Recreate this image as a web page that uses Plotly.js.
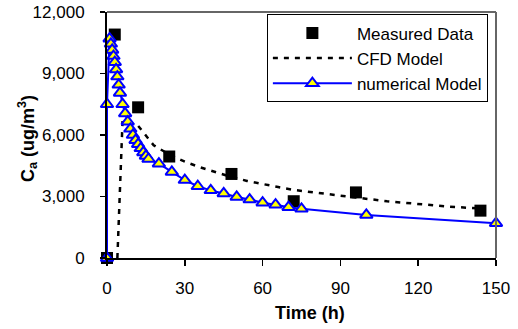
<!DOCTYPE html>
<html>
<head>
<meta charset="utf-8">
<script src="https://cdn.plot.ly/plotly-3.0.1.min.js"></script>
<style>
html,body{margin:0;padding:0;background:#fff;}
#chart{width:518px;height:329px;}
</style>
</head>
<body>
<div id="chart"></div>
<script>
// Measured data (squares)
var measuredTime = [0, 3, 12, 24, 48, 72, 96, 144];
var measuredCa   = [0, 10900, 7350, 4950, 4100, 2770, 3200, 2310];

// CFD model (dashed line)
var cfdTime = [4, 6, 12, 18, 24, 30, 36, 42, 48, 54, 60, 66, 72, 84, 96, 108, 120, 132, 144];
var cfdCa   = [0, 6700, 6450, 5500, 5050, 4700, 4420, 4170, 3950, 3760, 3600, 3460, 3320, 3120, 2950, 2770, 2620, 2500, 2420];

// Numerical model (blue line with triangles)
var numTime = [0, 0, 1, 1.5, 2, 2.5, 3, 3.5, 4, 4.5, 5, 6, 7, 8, 9, 10, 11, 12, 13, 14, 15, 16, 20, 25, 30, 35, 40, 45, 50, 55, 60, 65, 70, 75, 100, 150];
var numCa   = [0, 7500, 10700, 10450, 10150, 9850, 9550, 9200, 8850, 8450, 8050, 7500, 7050, 6650, 6300, 6000, 5750, 5550, 5350, 5150, 4980, 4830, 4600, 4200, 3800, 3500, 3300, 3150, 2980, 2850, 2700, 2600, 2480, 2400, 2100, 1700];

// Axis ticks and titles
var xTicks = [0, 30, 60, 90, 120, 150];
var yTicks = [0, 3000, 6000, 9000, 12000];
var xTitle = '<b>Time (h)</b>';
var yTitle = '<b>C<sub>a</sub> (ug/m<sup>3</sup>)</b>';

var FONT = 'Arial, "Liberation Sans", Helvetica, sans-serif';

var traces = [
  {
    x: measuredTime, y: measuredCa, name: 'Measured Data',
    type: 'scatter', mode: 'markers', legendgroup: 'a',
    marker: {symbol: 'square', size: 12, color: '#000000'},
    cliponaxis: false
  },
  {
    x: cfdTime, y: cfdCa, name: 'CFD Model',
    type: 'scatter', mode: 'lines', legendgroup: 'b',
    line: {color: '#000000', width: 2.5, dash: '5px,6px'},
    cliponaxis: false
  },
  {
    x: numTime, y: numCa, name: 'numerical Model',
    type: 'scatter', mode: 'lines+markers', legendgroup: 'c',
    line: {color: '#0000FF', width: 2},
    marker: {symbol: 'triangle-up', size: 11, color: '#FFFF00', line: {color: '#0000FF', width: 2}},
    cliponaxis: false
  }
];

var layout = {
  width: 518, height: 329,
  margin: {l: 107, r: 22, t: 12, b: 71, pad: 0},
  paper_bgcolor: '#ffffff', plot_bgcolor: '#ffffff',
  font: {family: FONT, size: 17, color: '#000000'},
  showlegend: true,
  legend: {
    x: 0.411, y: 0.99, xanchor: 'left', yanchor: 'top',
    bgcolor: '#ffffff', bordercolor: '#000000', borderwidth: 1,
    font: {family: FONT, size: 17, color: '#000000'},
    itemwidth: 79, tracegroupgap: 8, traceorder: 'normal'
  },
  xaxis: {
    range: [0, 150], tickvals: xTicks, ticktext: xTicks.map(String),
    showgrid: false, zeroline: false,
    showline: true, linecolor: '#000000', linewidth: 2,
    ticks: 'outside', ticklen: 6, tickwidth: 1.5, tickcolor: '#000000',
    ticklabelstandoff: 8,
    tickfont: {family: FONT, size: 17}
  },
  yaxis: {
    range: [0, 12000], tickvals: yTicks, tickformat: ',d',
    showgrid: false, zeroline: false,
    showline: true, linecolor: '#000000', linewidth: 2,
    ticks: 'outside', ticklen: 5, tickwidth: 1.5, tickcolor: '#000000',
    ticklabelstandoff: 12,
    tickfont: {family: FONT, size: 17}
  },
  annotations: [
    {text: xTitle, xref: 'paper', yref: 'paper', x: 0.522, y: 0, yshift: -55,
     xanchor: 'center', yanchor: 'middle', showarrow: false,
     font: {family: FONT, size: 18, color: '#000000'}},
    {text: yTitle, xref: 'paper', yref: 'paper', x: 0, y: 0.5, xshift: -80, yshift: -4,
     textangle: -90, xanchor: 'center', yanchor: 'middle', showarrow: false,
     font: {family: FONT, size: 18, color: '#000000'}}
  ],
  shapes: [
    {type: 'line', xref: 'paper', yref: 'paper', x0: 0, x1: 1, y0: 1, y1: 1, line: {color: '#666666', width: 2}},
    {type: 'line', xref: 'paper', yref: 'paper', x0: 1, x1: 1, y0: 0, y1: 1, line: {color: '#666666', width: 2}}
  ]
};

Plotly.newPlot('chart', traces, layout, {displayModeBar: false, staticPlot: true});
</script>
</body>
</html>
